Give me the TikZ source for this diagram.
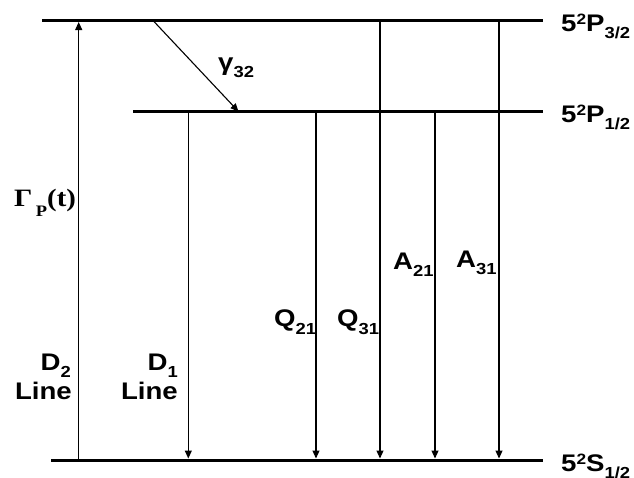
\documentclass[tikz,border=0pt]{standalone}
\usepackage{graphicx}
\usepackage{fontspec}
\setmainfont{Liberation Sans}
\newfontfamily\serifgr{Liberation Serif}
\usetikzlibrary{arrows.meta}
\newcommand{\sx}[1]{\scalebox{1.15}[1]{#1}}
\newcommand{\lo}[2][7pt]{\raisebox{-#1}{\fontsize{16}{16}\selectfont #2}}
\newcommand{\hi}[1]{\raisebox{7pt}{\fontsize{15}{15}\selectfont #1}}
\begin{document}
\begin{tikzpicture}[x=1pt,y=-1pt,
  level/.style={line width=3pt},
  trans/.style={line width=1.1pt,-{Triangle[length=8pt,width=7pt]}},
  lab/.style={inner sep=0pt,font=\fontsize{24}{24}\selectfont\bfseries}]
\useasboundingbox (0,0) rectangle (634,477);
% levels
\coordinate (T0) at (42,20.5);  \coordinate (T1) at (543,20.5);
\coordinate (M0) at (133,111.5); \coordinate (M1) at (543,111.5);
\coordinate (B0) at (51,460);   \coordinate (B1) at (543,460);
\draw[level] (T0) -- (T1);
\draw[level] (M0) -- (M1);
\draw[level] (B0) -- (B1);
% transition end points
\coordinate (gB) at (78.7,460);  \coordinate (gT) at (78.7,22);
\coordinate (d1T) at (188.3,111.5); \coordinate (d1B) at (188.3,458.5);
\coordinate (q21T) at (316,111.5); \coordinate (q21B) at (316,458.5);
\coordinate (q31T) at (380,20.5); \coordinate (q31B) at (380,458.5);
\coordinate (a21T) at (435,111.5); \coordinate (a21B) at (435,458.5);
\coordinate (a31T) at (499,20.5); \coordinate (a31B) at (499,458.5);
\coordinate (cT) at (153,20.5); \coordinate (cB) at (238.5,111.5);
% transitions
\draw[trans] (gB) -- (gT);
\draw[trans] (d1T) -- (d1B);
\draw[trans] (q21T) -- (q21B);
\draw[trans] (q31T) -- (q31B);
\draw[trans] (a21T) -- (a21B);
\draw[trans] (a31T) -- (a31B);
\draw[trans] (cT) -- (cB);
% level labels
\node[lab,anchor=base west] (lP3) at (561,31) {\sx{5\hi{2}P\lo{3/2}}};
\node[lab,anchor=base west] (lP1) at (561,122) {\sx{5\hi{2}P\lo{1/2}}};
\node[lab,anchor=base west] (lS1) at (561,471) {\sx{5\hi{2}S\lo{1/2}}};
% transition labels
\node[lab,anchor=base west] (lg) at (218,70) {\sx{γ\lo{32}}};
\node[inner sep=0pt,anchor=base west,font=\serifgr\bfseries\fontsize{25}{25}\selectfont] (lG) at (14,206)
  {\sx{Γ\hspace{3pt}\raisebox{-10.5pt}{\fontsize{16}{16}\selectfont P}(t)}};
\node[lab,anchor=base west] (lA21) at (393,269.5) {\sx{A\lo{21}}};
\node[lab,anchor=base west] (lA31) at (456,267) {\sx{A\lo{31}}};
\node[lab,anchor=base west] (lQ21) at (274,326) {\sx{Q\lo[8pt]{21}}};
\node[lab,anchor=base west] (lQ31) at (337,326) {\sx{Q\lo[8pt]{31}}};
\node[lab,anchor=base east] (lD2) at (71,370) {\sx{D\lo{2}}};
\node[lab,anchor=base east] (lL2) at (72,399) {\sx{Line}};
\node[lab,anchor=base east] (lD1) at (178,370) {\sx{D\lo{1}}};
\node[lab,anchor=base east] (lL1) at (178,399) {\sx{Line}};
\end{tikzpicture}
\end{document}
